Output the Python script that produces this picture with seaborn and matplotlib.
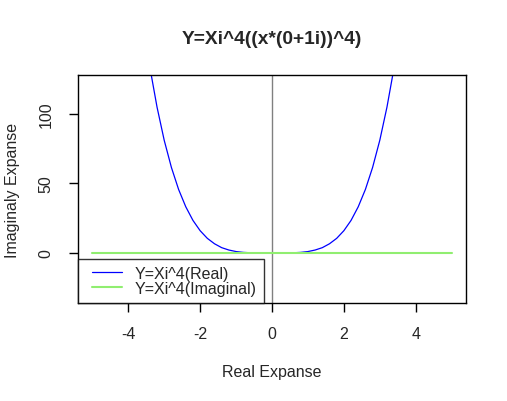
import numpy as np
import pandas as pd
import seaborn as sns
from matplotlib import pyplot as plt
from matplotlib.legend_handler import HandlerLine2D

# values (real part of (x*i)^4)
x_real = [-3.6, -3.4, -3.2, -3.0, -2.8, -2.6, -2.4, -2.2, -2.0, -1.8, -1.6, -1.4, -1.2, -1.0,
          -0.8, -0.6, -0.4, -0.2, 0.0, 0.2, 0.4, 0.6, 0.8, 1.0, 1.2, 1.4, 1.6, 1.8,
          2.0, 2.2, 2.4, 2.6, 2.8, 3.0, 3.2, 3.4, 3.6]
y_real = [168.0, 133.6, 104.9, 81.0, 61.5, 45.7, 33.2, 23.4, 16.0, 10.5, 6.6, 3.8, 2.1, 1.0,
          0.41, 0.13, 0.03, 0.0, 0.0, 0.0, 0.03, 0.13, 0.41, 1.0, 2.1, 3.8, 6.6, 10.5,
          16.0, 23.4, 33.2, 45.7, 61.5, 81.0, 104.9, 133.6, 168.0]
x_imag = [-5.0, 5.0]
y_imag = [0.0, 0.0]

x_ticks = [-4, -2, 0, 2, 4]
y_ticks = [0, 50, 100]

sns.set_style("white")
plt.rcParams['font.family'] = ['Liberation Sans', 'DejaVu Sans']

real_df = pd.DataFrame({"x": x_real, "y": y_real})
imag_df = pd.DataFrame({"x": x_imag, "y": y_imag})

fig = plt.figure(figsize=(5.07, 4.02), dpi=100)
ax = fig.add_axes([78 / 507, 98 / 402, 388 / 507, 228 / 402])

ax.axvline(0, color="gray", lw=1, zorder=1)
sns.lineplot(data=real_df, x="x", y="y", sort=False, color="blue", lw=0.9,
             ax=ax, label="Y=Xi^4(Real)")
sns.lineplot(data=imag_df, x="x", y="y", sort=False, color="#90EE70", lw=1.5,
             ax=ax, label="Y=Xi^4(Imaginal)")

ax.set_xlim(-5.4, 5.4)
ax.set_ylim(-36, 128)
ax.set_xticks(x_ticks)
ax.set_yticks(y_ticks)
ax.set_xticklabels([str(t) for t in x_ticks], fontsize=11.5)
ax.set_yticklabels([str(t) for t in y_ticks], fontsize=11.5, rotation=90, va="center")
ax.tick_params(direction="out", length=6.5, width=1, color="black", bottom=True, left=True)
ax.tick_params(axis="x", pad=10)
ax.tick_params(axis="y", pad=11)

for s in ax.spines.values():
    s.set_color("black")
    s.set_linewidth(1)

ax.set_xlabel("Real Expanse", fontsize=11.5)
ax.set_ylabel("Imaginaly Expanse", fontsize=11.5)
ax.xaxis.set_label_coords(0.5, -(365 - 304) / 228)
ax.yaxis.set_label_coords(-(78 - 20) / 388, 0.5)
fig.text(272 / 507, 1 - 40 / 402, "Y=Xi^4((x*(0+1i))^4)", fontsize=13.8,
         fontweight="bold", ha="center", va="center")

leg = ax.legend(loc="lower left", bbox_to_anchor=(0, 0), borderaxespad=0, fontsize=11.5,
                frameon=True, fancybox=False, edgecolor="black", handlelength=2.3,
                handletextpad=0.8, labelspacing=0.0, borderpad=0.45,
                handler_map={plt.Line2D: HandlerLine2D(xpad=0.44)})
leg.get_frame().set_linewidth(1)

plt.savefig("out.png", dpi=100)
